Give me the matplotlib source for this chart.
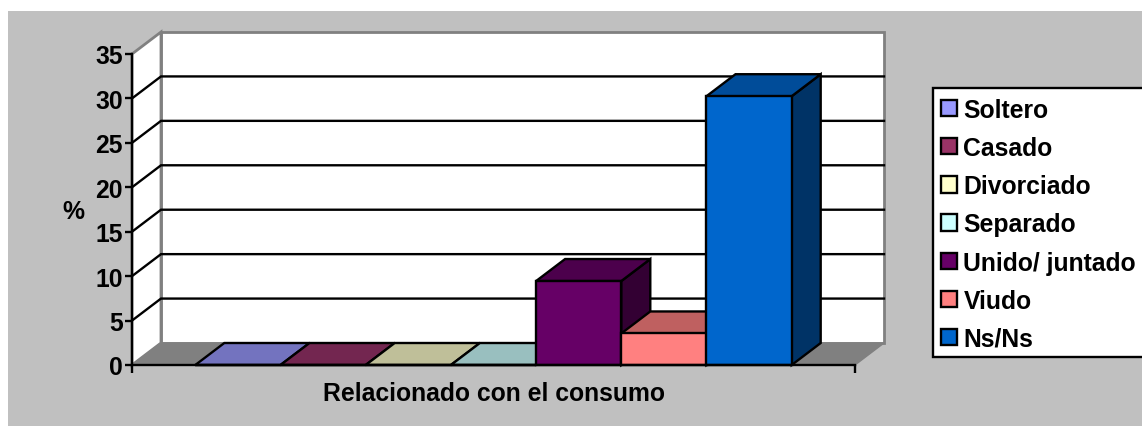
import matplotlib
matplotlib.use("Agg")
import matplotlib.pyplot as plt
from matplotlib.patches import Polygon, Rectangle

# values
categorias = ['Soltero', 'Casado', 'Divorciado', 'Separado', 'Unido/ juntado', 'Viudo', 'Ns/Ns']
valores = [0, 0, 0, 0, 9.45, 3.55, 30.25]
y_ticks = [0, 5, 10, 15, 20, 25, 30, 35]

frente = ['#9999FF', '#993366', '#FFFFCC', '#CCFFFF', '#660066', '#FF8080', '#0066CC']
arriba = ['#7373BF', '#732650', '#BFBF99', '#99BFBF', '#4C004C', '#BF6060', '#004C99']
lado = ['#4D4D80', '#4D1A33', '#808066', '#668080', '#330033', '#804040', '#003366']

W, H = 1142, 427
GRIS = '#C0C0C0'
FS = 17.8

plt.rcParams['font.family'] = ['Liberation Sans']
plt.rcParams['font.weight'] = 'bold'

fig = plt.figure(figsize=(W / 100, H / 100), dpi=100, facecolor='white')

# gray chart area on a white page
fig.patches.append(Rectangle((8 / W, 0), (W - 8) / W, (H - 12) / H, transform=fig.transFigure,
                             facecolor=GRIS, edgecolor='none', zorder=-5))

# front plane of the 3D box, in pixels
left, right, bottom, top = 132, 855, 366, 55
ax = fig.add_axes([left / W, 1 - bottom / H, (right - left) / W, (bottom - top) / H])
ax.patch.set_alpha(0)

ancho_barra = 85.2
ax.set_xlim(0, (right - left) / ancho_barra)
ax.set_ylim(0, 35)
prof_x = 29 / ancho_barra      # depth of the box in data units
prof_y = 22 / ((bottom - top) / 35)
x_max = ax.get_xlim()[1]
LW = 1.7


def poly(puntos, color, edge='black', lw=LW, z=3):
    ax.add_patch(Polygon(puntos, closed=True, facecolor=color, edgecolor=edge, linewidth=lw,
                         joinstyle='miter', zorder=z, clip_on=False))


# walls and floor
poly([(prof_x, prof_y), (x_max + prof_x, prof_y), (x_max + prof_x, 35 + prof_y), (prof_x, 35 + prof_y)],
     'white', edge='#808080', lw=2, z=1)
poly([(0, 0), (prof_x, prof_y), (prof_x, 35 + prof_y), (0, 35)], 'white', edge='#808080', lw=2, z=1)
poly([(0, 0), (x_max, 0), (x_max + prof_x, prof_y), (prof_x, prof_y)], '#808080', edge='#808080', lw=1, z=1)

# gridlines on the side wall and the back wall
for v in y_ticks[1:-1]:
    ax.plot([0, prof_x, x_max + prof_x], [v, v + prof_y, v + prof_y], color='black', lw=LW,
            zorder=2, clip_on=False, solid_joinstyle='miter')

# bars, left to right
hueco = (x_max - len(valores)) / 2
for i, v in enumerate(valores):
    x0 = hueco + i
    poly([(x0 + 1, 0), (x0 + 1 + prof_x, prof_y), (x0 + 1 + prof_x, v + prof_y), (x0 + 1, v)], lado[i], z=3 + i)
    poly([(x0, v), (x0 + 1, v), (x0 + 1 + prof_x, v + prof_y), (x0 + prof_x, v + prof_y)], arriba[i], z=3 + i)
    ax.bar(x0, v, width=1, align='edge', color=frente[i], edgecolor='black', linewidth=LW,
           zorder=3 + i + 0.5, clip_on=False)

for s in ['top', 'right']:
    ax.spines[s].set_visible(False)
for s in ['left', 'bottom']:
    ax.spines[s].set_linewidth(LW)
    ax.spines[s].set_zorder(20)

ax.set_yticks(y_ticks)
ax.set_xticks([0, x_max])
ax.set_xticklabels(['', ''])
ax.tick_params(axis='y', length=5, width=LW, labelsize=FS, pad=1.5)
ax.tick_params(axis='x', length=6, width=LW)

fig.text(494 / W, 1 - 401 / H, 'Relacionado con el consumo', fontsize=FS, ha='center', va='baseline')
fig.text(73 / W, 1 - 212 / H, '%', fontsize=FS, ha='center', va='center')

# legend box, it runs off the right edge as in the source
fig.patches.append(Rectangle((933 / W, 1 - 358 / H), 300 / W, 269 / H, transform=fig.transFigure,
                             facecolor='white', edgecolor='black', linewidth=LW, zorder=-1))
handles = [Rectangle((0, 0), 1, 1, facecolor=c, edgecolor='black', linewidth=LW) for c in frente]
leg = fig.legend(handles, categorias, loc='upper left', bbox_to_anchor=(935 / W, 1 - 92.5 / H),
                 frameon=False, fontsize=FS, handlelength=0.64, handleheight=0.64, handletextpad=0.26,
                 labelspacing=0.575, borderpad=0.25, borderaxespad=0)

fig.savefig('out.png', dpi=100, facecolor=fig.get_facecolor())
